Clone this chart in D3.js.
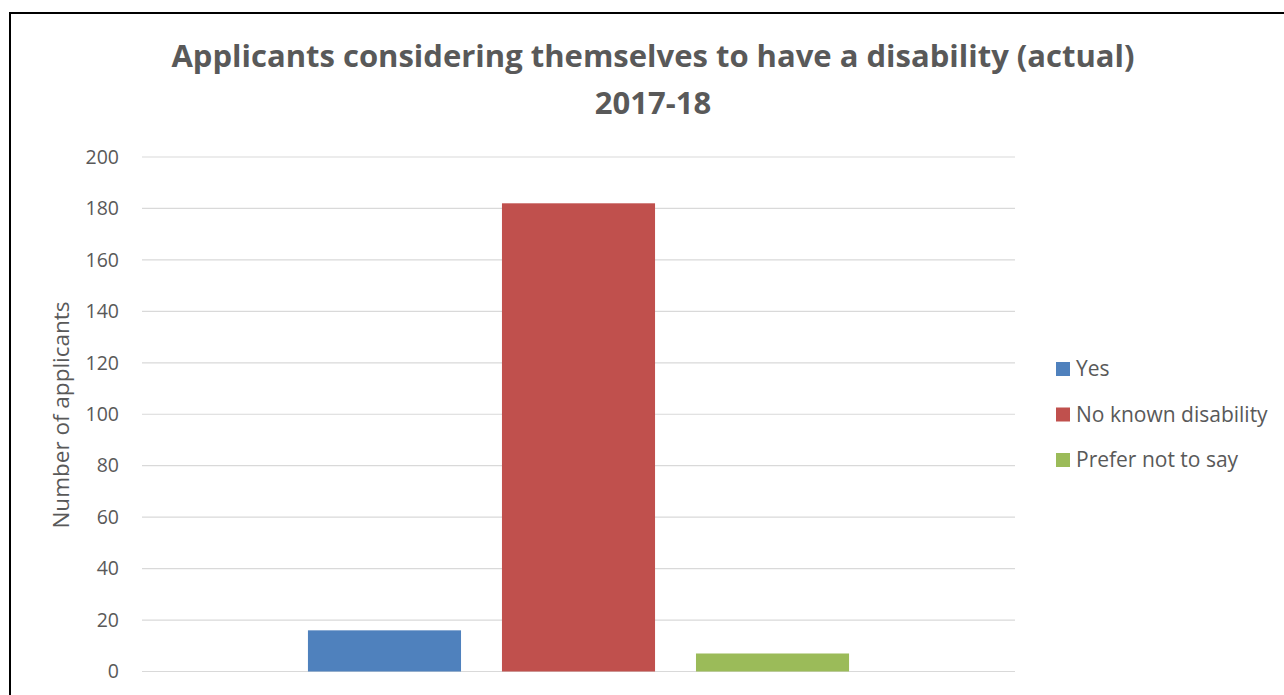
<!DOCTYPE html>
<html>
<head>
<meta charset="utf-8">
<script src="https://cdn.jsdelivr.net/npm/d3@7"></script>
<style>
  html, body { margin: 0; padding: 0; background: #fff; }
  svg text { font-family: "Open Sans", "Liberation Sans", sans-serif; fill: #595959; }
</style>
</head>
<body>
<svg id="chart" width="1284" height="695"></svg>
<script>
// Applicants by disability status, 2017-18
const categories = ["2017-18"];
const seriesNames = ["Yes", "No known disability", "Prefer not to say"];
const seriesValues = [16, 182, 7];
const seriesColors = ["#4f81bd", "#c0504d", "#9bbb59"];
const yTicks = [0, 20, 40, 60, 80, 100, 120, 140, 160, 180, 200];
const titleLines = ["Applicants considering themselves to have a disability (actual)", "2017-18"];
const yTitle = "Number of applicants";

const svg = d3.select("#chart");
const W = 1284, H = 695;

// outer chart frame
svg.append("rect")
  .attr("x", 10).attr("y", 13)
  .attr("width", W + 10).attr("height", H + 10)
  .attr("fill", "none").attr("stroke", "#000").attr("stroke-width", 2);

const plot = { left: 142, right: 1015, top: 157, bottom: 671.5 };

const y = d3.scaleLinear().domain([0, 200]).range([plot.bottom, plot.top]);

const x0 = d3.scaleBand().domain(categories)
  .range([plot.left, plot.right]).paddingInner(0.2347).paddingOuter(0.2347);
const x1 = d3.scaleBand().domain(seriesNames)
  .range([0, x0.bandwidth()]).paddingInner(0.211).paddingOuter(0);

// gridlines
svg.append("g")
  .selectAll("line").data(yTicks).join("line")
  .attr("x1", plot.left).attr("x2", plot.right)
  .attr("y1", d => y(d)).attr("y2", d => y(d))
  .attr("stroke", "#d9d9d9").attr("stroke-width", 1.2);

// y axis labels
const yAxis = d3.axisLeft(y).tickValues(yTicks).tickSize(0).tickPadding(0);
const gy = svg.append("g").attr("transform", `translate(119,0)`).call(yAxis);
gy.select(".domain").remove();
gy.selectAll("text")
  .attr("fill", "#595959")
  .style("font-family", '"Open Sans", sans-serif')
  .style("font-size", "19.5px");

// bars
const rows = seriesNames.map((name, i) => ({ name, value: seriesValues[i], color: seriesColors[i], cat: categories[0] }));
svg.append("g")
  .selectAll("rect").data(rows).join("rect")
  .attr("x", d => x0(d.cat) + x1(d.name))
  .attr("width", x1.bandwidth())
  .attr("y", d => y(d.value))
  .attr("height", d => y(0) - y(d.value))
  .attr("fill", d => d.color);

// title
svg.append("g").selectAll("text").data(titleLines).join("text")
  .attr("x", 653)
  .attr("y", (d, i) => 67 + i * 47)
  .attr("text-anchor", "middle")
  .style("font-size", "31px")
  .style("font-weight", "bold")
  .text(d => d);

// y axis title
svg.append("text")
  .attr("transform", `translate(69,415) rotate(-90)`)
  .attr("text-anchor", "middle")
  .style("font-size", "22.5px")
  .text(yTitle);

// legend
const legend = svg.append("g").selectAll("g").data(rows).join("g")
  .attr("transform", (d, i) => `translate(1056,${369 + i * 45.5})`);
legend.append("rect")
  .attr("x", 0).attr("y", -7).attr("width", 14).attr("height", 14)
  .attr("fill", d => d.color);
legend.append("text")
  .attr("x", 20).attr("y", 0).attr("dy", "0.35em")
  .style("font-size", "21px")
  .text(d => d.name);
</script>
</body>
</html>
